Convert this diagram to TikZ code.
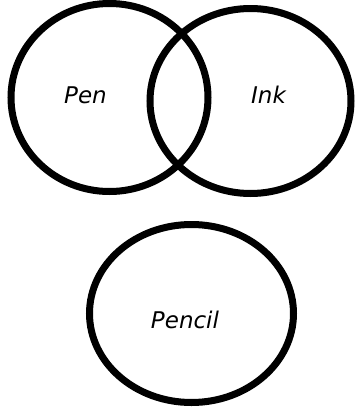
\documentclass[tikz,border=0pt]{standalone}
\usepackage{fontspec}
\setmainfont{DejaVu Sans}
\usepackage{tikz}
\usetikzlibrary{positioning}

\begin{document}
\begin{tikzpicture}[
  x=1pt, y=-1pt,
  ring/.style={draw=black, line width=7pt},
  label/.style={font=\fontsize{23}{27}\selectfont\itshape, inner sep=0pt, anchor=base}
]
  \useasboundingbox (0,0) rectangle (355,408);
  \draw[ring] (109.5,97.5) ellipse [x radius=98.5, y radius=94];
  \draw[ring] (250.5,101) ellipse [x radius=100.5, y radius=92.5];
  \draw[ring] (191.5,313.5) ellipse [x radius=102, y radius=89];
  \node[label] (pen)    at (85.5,103) {Pen};
  \node[label] (ink)    at (268.5,103) {Ink};
  \node[label] (pencil) at (185,328) {Pencil};
\end{tikzpicture}
\end{document}
